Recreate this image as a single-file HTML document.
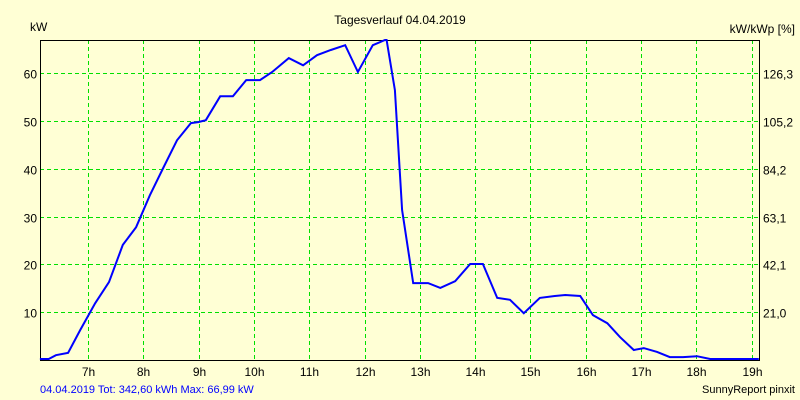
<!DOCTYPE html>
<html><head><meta charset="utf-8"><style>
body{margin:0;background:#ffffd5;}
svg{display:block;font-family:"Liberation Sans",sans-serif;}
</style></head><body>
<svg id="chart" width="800" height="400">
<rect width="800" height="400" fill="#ffffd5"/>
<text x="400" y="24" font-size="12" text-anchor="middle">Tagesverlauf 04.04.2019</text>
<text x="30" y="31" font-size="12">kW</text>
<text x="795" y="33" font-size="12" text-anchor="end">kW/kWp [%]</text>
<text x="40" y="393" font-size="11" fill="#0000ff">04.04.2019 Tot: 342,60 kWh Max: 66,99 kW</text>
<text x="795" y="393" font-size="11" text-anchor="end">SunnyReport pinxit</text>
<g id="grid"></g>
<g id="axes"></g>
<path id="line" fill="none" stroke="#0000ff" stroke-width="2"/>
</svg>
<script>
const hours=[7,8,9,10,11,12,13,14,15,16,17,18,19];
const hourLabels=["7h","8h","9h","10h","11h","12h","13h","14h","15h","16h","17h","18h","19h"];
const yTicks=[10,20,30,40,50,60];
const yTickLabels=["10","20","30","40","50","60"];
const rightTickLabels=["21,0","42,1","63,1","84,2","105,2","126,3"];
const times=[6.13,6.29,6.42,6.64,6.86,7.13,7.38,7.63,7.87,8.12,8.36,8.61,8.86,8.99,9.13,9.39,9.62,9.86,10.11,10.33,10.63,10.89,11.14,11.39,11.65,11.88,12.15,12.37,12.40,12.55,12.68,12.88,13.15,13.37,13.64,13.91,14.14,14.40,14.63,14.88,15.17,15.44,15.63,15.90,16.13,16.39,16.62,16.87,17.05,17.29,17.52,17.76,18.01,18.25,19.13];
const power=[0.2,0.2,1.0,1.5,6.3,11.9,16.3,24.1,27.8,34.5,40.2,46.0,49.6,49.8,50.2,55.2,55.2,58.6,58.6,60.3,63.2,61.7,63.8,64.9,65.9,60.3,65.9,66.99,66.99,56.5,31.4,16.1,16.1,15.1,16.5,20.1,20.1,13.0,12.6,9.8,13.0,13.4,13.6,13.4,9.4,7.7,4.8,2.1,2.5,1.7,0.6,0.6,0.8,0.2,0.2];
const L=40,R=759,T=40,B=360,xmin=6.132,xmax=19.133,ymax=66.99;
const X=t=>L+(t-xmin)/(xmax-xmin)*(R-L);
const Y=v=>B-v/ymax*(B-T);
const ns="http://www.w3.org/2000/svg";
const grid=document.getElementById('grid'),axes=document.getElementById('axes');
function mk(tag,attrs,parent){const e=document.createElementNS(ns,tag);for(const k in attrs)e.setAttribute(k,attrs[k]);parent.appendChild(e);return e;}
hours.forEach((h,i)=>{const x=Math.round(X(h))+0.5;
 const g=mk('line',{x1:x,x2:x,y1:T,y2:B,stroke:'#00e000','stroke-dasharray':'4,3'},grid);
 
 
 const t=mk('text',{x:x,y:B+16,'font-size':12,'text-anchor':'middle'},axes);t.textContent=hourLabels[i];
 
 
});
yTicks.forEach((v,i)=>{const y=Math.round(Y(v))+0.5;
 const g=mk('line',{x1:L,x2:R,y1:y,y2:y,stroke:'#00e000','stroke-dasharray':'4,3'},grid);
 
 
 const t=mk('text',{x:L-3,y:y+5,'font-size':12,'text-anchor':'end'},axes);t.textContent=yTickLabels[i];
 
 
 const r=mk('text',{x:R+4,y:y+5,'font-size':12},axes);r.textContent=rightTickLabels[i];
 
 
});
const frame=mk('rect',{x:L+0.5,y:T+0.5,width:R-L,height:B-T,fill:'none',stroke:'#000'},axes);


document.getElementById('line').setAttribute('d',times.map((t,i)=>(i?'L':'M')+X(t).toFixed(1)+','+Y(power[i]).toFixed(1)).join(''));
</script>
</body></html>
